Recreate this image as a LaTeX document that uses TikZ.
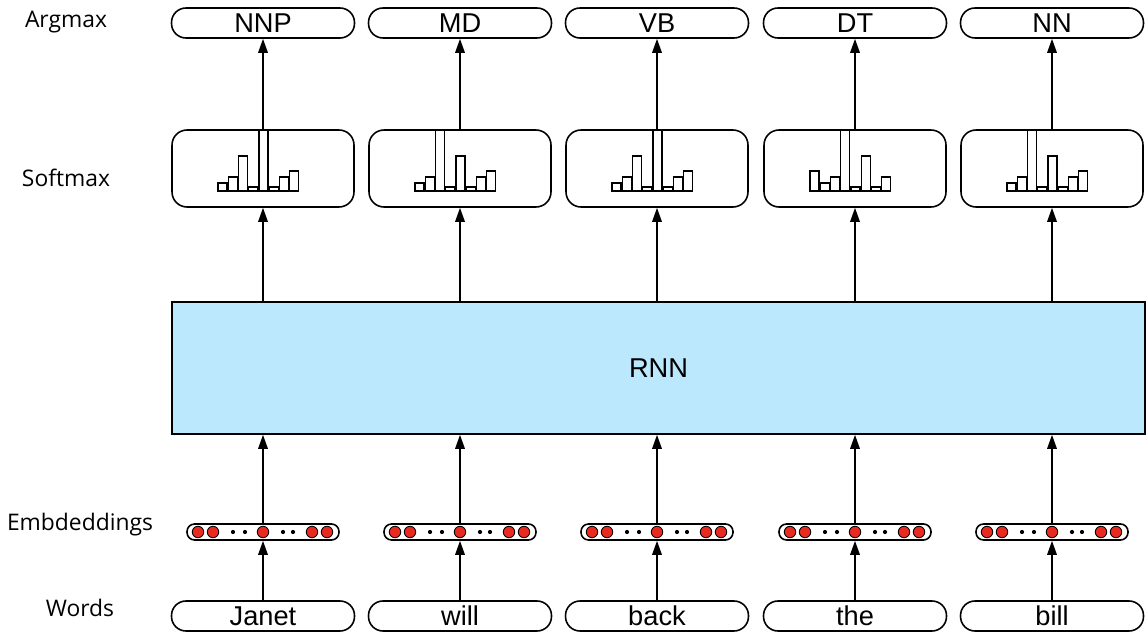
\documentclass[tikz,border=0pt]{standalone}
\usepackage{fontspec}
\setmainfont{Liberation Sans}
\newfontfamily\sidefont{Open Sans}
\usetikzlibrary{arrows.meta}
\definecolor{rnnB}{RGB}{187,232,253}
\definecolor{dotR}{RGB}{232,42,32}
\newcommand{\SW}{10.25}
\newcommand{\BY}{191}

\begin{document}
\begin{tikzpicture}[
    x=0.02cm, y=-0.02cm,
    arr/.style={draw=black, line width=0.9pt, -{Triangle[length=0.28cm, width=0.19cm]}},
    pill/.style={draw=black, line width=0.9pt, rounded corners=0.29cm, minimum width=3.66cm,
                 minimum height=0.6cm, inner sep=0pt, font=\fontsize{15.5}{17}\selectfont},
    soft/.style={draw=black, line width=0.9pt, rounded corners=0.3cm, minimum width=3.64cm,
                 minimum height=1.54cm, inner sep=0pt},
    emb/.style={draw=black, line width=0.9pt, rounded corners=0.15cm, minimum width=3.04cm,
                minimum height=0.32cm, inner sep=0pt},
    rnn/.style={draw=black, line width=0.9pt, fill=rnnB, minimum width=19.46cm,
                minimum height=2.64cm, inner sep=0pt, font=\fontsize{15.5}{17}\selectfont},
    side/.style={font=\sidefont\fontsize{13}{15}\selectfont},
    bar/.style={draw=black, line width=0.6pt, fill=white},
    red dot/.style={draw=black, line width=0.5pt, fill=dotR},
  ]
  \useasboundingbox (0,0) rectangle (1146,634);

  % histogram inside a softmax box: #1 centre x, #2 bar heights
  \newcommand{\hist}[2]{%
    \foreach \h [count=\k] in {#2}
      \draw[bar] ({#1-45+(\k-1)*\SW},\BY) rectangle ++(9,-\h);}

  % row labels
  \node[side] (lArg)  at (66,22)  {Argmax};
  \node[side] (lSoft) at (66,178) {Softmax};
  \node[side] (lEmb)  at (80,525) {Embdeddings};
  \node[side] (lWrd)  at (80,608) {Words};

  \node[rnn] (rnn) at (658.5,368) {RNN};

  \foreach \x/\tg/\wrd [count=\i] in {263/NNP/Janet, 460/MD/will, 657/VB/back, 855/DT/the, 1052/NN/bill} {
    \node[pill] (am\i) at (\x,23)    {\tg};
    \node[soft] (sm\i) at (\x,168.5) {};
    \node[emb]  (em\i) at (\x,532)   {};
    \node[pill] (wd\i) at (\x,616)   {\wrd};
    % embedding vector
    \begin{scope}[shift={(em\i.center)}]
      \foreach \o in {-65,-50,0,49,64}
        \draw[red dot] (\o,0) circle (0.115cm);
      \foreach \o in {-30,-18,20,30}
        \fill (\o,0) circle (0.042cm);
    \end{scope}
    \draw[arr] (wd\i) -- (em\i);
    \draw[arr] (em\i) -- (rnn.south -| em\i);
    \draw[arr] (rnn.north -| sm\i) -- (sm\i);
    \draw[arr] (sm\i) -- (am\i);
  }

  \hist{263}{8,14,35,4,61,4,14,20}
  \hist{460}{8,14,61,4,35,4,14,20}
  \hist{657}{8,14,35,4,61,4,14,20}
  \hist{855}{20,8,14,61,4,35,4,14}
  \hist{1052}{8,14,61,4,35,4,14,20}

\end{tikzpicture}
\end{document}
